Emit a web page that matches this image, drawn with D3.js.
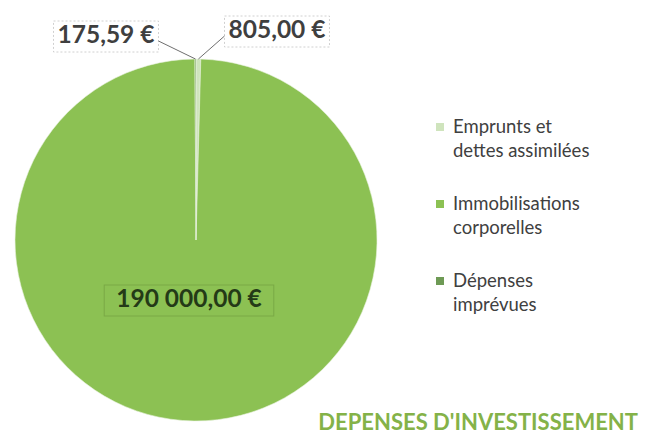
<!DOCTYPE html>
<html>
<head>
<meta charset="utf-8">
<script src="https://cdn.jsdelivr.net/npm/d3@7"></script>
<style>
  body { margin: 0; background: #fff; }
  svg { display: block; font-family: Lato, "Open Sans", sans-serif; }
</style>
</head>
<body>
<div id="chart"></div>
<script>
// postes de dépenses
const categories = ["Emprunts et dettes assimilées", "Immobilisations corporelles", "Dépenses imprévues"]
const legendLines = [["Emprunts et", "dettes assimilées"], ["Immobilisations", "corporelles"], ["Dépenses", "imprévues"]]
const values = [805.00, 190000.00, 175.59]
const valueLabels = ["805,00 €", "190 000,00 €", "175,59 €"]
const colors = ["#cfe4bd", "#8cc153", "#6e9a55"]
const title = "DEPENSES D'INVESTISSEMENT"

const width = 648, height = 443
const cx = 196, cy = 240, radius = 181

const svg = d3.select("#chart").append("svg")
    .attr("width", width)
    .attr("height", height)

const pie = d3.pie().sort(null).value(d => d)
const arcs = pie(values)
const arc = d3.arc().innerRadius(0).outerRadius(radius)

const g = svg.append("g").attr("transform", `translate(${cx},${cy})`)

g.selectAll("path")
  .data(arcs)
  .join("path")
    .attr("d", arc)
    .attr("fill", (d, i) => colors[i])
    .attr("stroke", "#e8f2de")
    .attr("stroke-width", 0.6)

// étiquettes : positions des boîtes (relatives au centre)
const labelPos = [[81, -202], [-7, 67], [-90, -197]]
const labelColor = ["#3f3f3f", "#243a17", "#3f3f3f"]
const padX = [4, 12, 4]

arcs.forEach((d, i) => {
  const [lx, ly] = labelPos[i]
  const t = g.append("text")
      .attr("x", lx)
      .attr("y", ly)
      .attr("text-anchor", "middle")
      .attr("font-size", 24.5)
      .attr("font-weight", "bold")
      .attr("fill", labelColor[i])
      .text(valueLabels[i])
  const bb = t.node().getBBox()
  g.insert("rect", "text")
      .attr("x", bb.x - padX[i])
      .attr("y", bb.y + 2)
      .attr("width", bb.width + padX[i] * 2)
      .attr("height", bb.height + 2)
      .attr("fill", i == 1 ? "none" : "#fff")
      .attr("stroke", i == 1 ? "#7aa946" : "#d0d0d0")
      .attr("stroke-dasharray", i == 1 ? null : "2,2")
      .attr("stroke-width", 1)

  if (i != 1) {
    const mid = (d.startAngle + d.endAngle) / 2
    const px = Math.sin(mid) * radius, py = -Math.cos(mid) * radius
    const ex = i == 0 ? bb.x - padX[i] : bb.x + bb.width + padX[i]
    g.append("line")
        .attr("x1", px).attr("y1", py)
        .attr("x2", ex).attr("y2", ly - 2)
        .attr("stroke", "#6f6f6f")
        .attr("stroke-width", 1)
  }
})

// légende
const legend = svg.append("g").attr("transform", "translate(436,0)")
const legendY = [133, 210, 287]
categories.forEach((c, i) => {
  legend.append("rect")
      .attr("x", 0)
      .attr("y", legendY[i] - 10)
      .attr("width", 8)
      .attr("height", 8)
      .attr("fill", colors[i])
  legendLines[i].forEach((l, j) => {
    legend.append("text")
        .attr("x", 17)
        .attr("y", legendY[i] + j * 24)
        .attr("font-size", 18.5)
        .attr("fill", "#404040")
        .text(l)
  })
})

svg.append("text")
    .attr("x", 638)
    .attr("y", 430)
    .attr("text-anchor", "end")
    .attr("font-size", 22)
    .attr("font-weight", "bold")
    .attr("fill", "#84b248")
    .text(title)
</script>
</body>
</html>
